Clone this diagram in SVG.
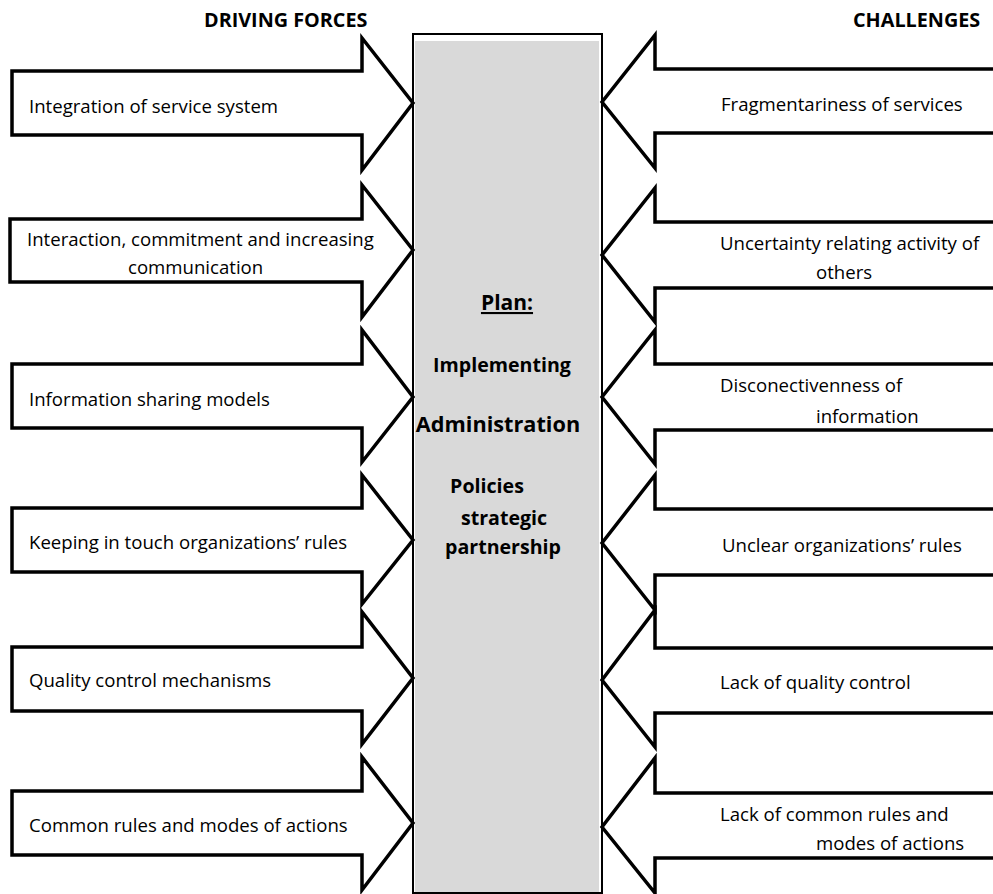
<svg xmlns="http://www.w3.org/2000/svg" width="993" height="894" viewBox="0 0 993 894">
<style>
.arr{fill:#fff;stroke:#000;stroke-width:3.5;stroke-linejoin:miter}
.t{font-family:"Open Sans","Liberation Sans",sans-serif;font-size:18.6px;fill:#000}
.h{font-family:"Open Sans","Liberation Sans",sans-serif;font-size:19.8px;font-weight:bold;fill:#000}
.c{font-family:"Open Sans","Liberation Sans",sans-serif;font-size:19.6px;font-weight:bold;fill:#000;text-anchor:middle}
</style>
<rect width="993" height="894" fill="#fff"/>
<g id="headers">
<text class="h" x="204" y="27">DRIVING FORCES</text>
<text class="h" x="853" y="27">CHALLENGES</text>
</g>
<g id="center">
<rect x="413" y="34" width="189" height="859" fill="#fff" stroke="#000" stroke-width="2"/>
<rect x="415" y="41" width="184" height="851" fill="#d9d9d9"/>
<text class="c" x="507" y="310" style="font-size:21px" text-decoration="underline">Plan:</text>
<text class="c" x="502" y="372">Implementing</text>
<text class="c" x="498" y="432" style="font-size:21.7px">Administration</text>
<text class="c" x="487" y="493">Policies</text>
<text class="c" x="504" y="525">strategic</text>
<text class="c" x="503" y="554">partnership</text>
</g>
<g id="connectors">
<g id="left1"><polygon class="arr" points="12,71 362,71 362,38 413,103 362,170 362,135 12,135"/>
<text class="t" x="29" y="113">Integration of service system</text></g>
<g id="left2"><polygon class="arr" points="10,219 362,219 362,185 413,250 362,317 362,282 10,282"/>
<text class="t" x="27" y="246">Interaction, commitment and increasing</text>
<text class="t" x="128" y="274">communication</text></g>
<g id="left3"><polygon class="arr" points="12,364 362,364 362,330 413,397 362,462 362,428 12,428"/>
<text class="t" x="29" y="406">Information sharing models</text></g>
<g id="left4"><polygon class="arr" points="12,508 362,508 362,475 413,540 362,604 362,572 12,572"/>
<text class="t" x="29" y="549">Keeping in touch organizations’ rules</text></g>
<g id="left5"><polygon class="arr" points="12,647 362,647 362,612 413,678 362,744 362,711 12,711"/>
<text class="t" x="29" y="687">Quality control mechanisms</text></g>
<g id="left6"><polygon class="arr" points="12,791 362,791 362,757 413,823 362,890 362,855 12,855"/>
<text class="t" x="29" y="832">Common rules and modes of actions</text></g>
<g id="right1"><path class="arr" d="M1000,69 L655,69 L655,35 L602,102 L655,168 L655,133 L1000,133"/>
<text class="t" x="721" y="111">Fragmentariness of services</text></g>
<g id="right2"><path class="arr" d="M1000,222 L655,222 L655,188 L602,255 L655,322 L655,288 L1000,288"/>
<text class="t" x="720" y="250">Uncertainty relating activity of</text>
<text class="t" x="816" y="279">others</text></g>
<g id="right3"><path class="arr" d="M1000,364 L655,364 L655,330 L602,397 L655,464 L655,430 L1000,430"/>
<text class="t" x="720" y="392">Disconectivenness of</text>
<text class="t" x="816" y="423">information</text></g>
<g id="right4"><path class="arr" d="M1000,509 L655,509 L655,475 L602,543 L655,610 L655,575 L1000,575"/>
<text class="t" x="722" y="552">Unclear organizations’ rules</text></g>
<g id="right5"><path class="arr" d="M1000,648 L655,648 L655,610 L602,680 L655,747 L655,713 L1000,713"/>
<text class="t" x="720" y="689">Lack of quality control</text></g>
<g id="right6"><path class="arr" d="M1000,793 L655,793 L655,758 L602,827 L655,893 L655,858 L1000,858"/>
<text class="t" x="720" y="821">Lack of common rules and</text>
<text class="t" x="816" y="850">modes of actions</text></g>
</g>
</svg>
